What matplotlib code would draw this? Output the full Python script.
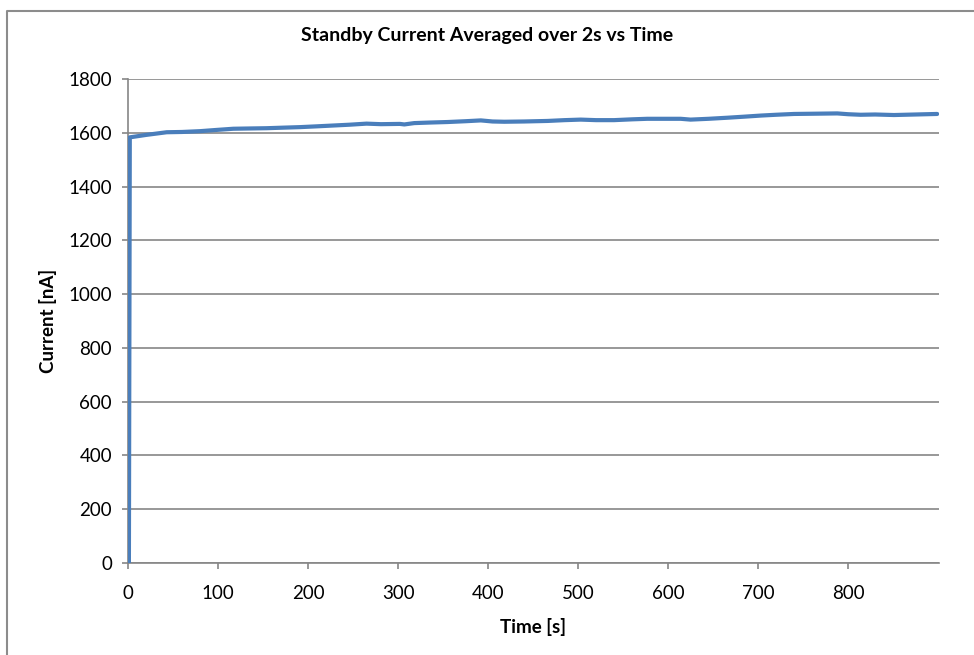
import matplotlib
matplotlib.use("Agg")
import matplotlib.pyplot as plt
from matplotlib.lines import Line2D

plt.rcParams['font.family'] = ['Lato', 'DejaVu Sans']

# Standby current readings (time in s, current in nA)
time_s = [1, 2, 20, 43, 60, 80, 100, 117, 135, 154, 172, 191, 210, 228, 246,
          265, 281, 302, 307, 318, 335, 355, 375, 392, 405, 418, 440, 466, 485,
          503, 520, 540, 560, 577, 592, 614, 625, 645, 666, 685, 703, 720, 740,
          765, 788, 800, 814, 830, 851, 875, 899]
current_nA = [0, 1583, 1592, 1602, 1603, 1606, 1611, 1615, 1616, 1617, 1619,
              1621, 1624, 1627, 1630, 1634, 1632, 1633, 1631, 1636, 1638, 1640,
              1643, 1646, 1642, 1641, 1642, 1644, 1647, 1649, 1647, 1647, 1650,
              1652, 1652, 1652, 1649, 1652, 1656, 1660, 1664, 1667, 1670, 1671,
              1672, 1669, 1667, 1668, 1666, 1668, 1670]

x_ticks = [0, 100, 200, 300, 400, 500, 600, 700, 800]
y_ticks = [0, 200, 400, 600, 800, 1000, 1200, 1400, 1600, 1800]

W, H = 974, 655
fig = plt.figure(figsize=(W / 100, H / 100), dpi=100)
ax = fig.add_axes([128 / W, (H - 563) / H, (939 - 128) / W, (563 - 79) / H])

grid_col = '#868686'
ax.plot(time_s, current_nA, color='#4a7ebb', lw=3.0, solid_joinstyle='round',
        solid_capstyle='round', zorder=3)

ax.set_xlim(0, 901)
ax.set_ylim(0, 1800)
ax.set_xticks(x_ticks)
ax.set_yticks(y_ticks)
ax.yaxis.grid(True, color=grid_col, lw=1.2)
ax.set_axisbelow(True)

for side in ['top', 'right']:
    ax.spines[side].set_visible(False)
for side in ['left', 'bottom']:
    ax.spines[side].set_color(grid_col)
    ax.spines[side].set_linewidth(1.2)

ax.tick_params(axis='both', colors=grid_col, labelcolor='black', labelsize=13.5,
               length=4.5, width=1.2, direction='out')
ax.tick_params(axis='x', pad=11)
ax.tick_params(axis='y', pad=7)

ax.set_xlabel('Time [s]', fontsize=13.5, fontweight='bold', labelpad=12)
ax.set_ylabel('Current [nA]', fontsize=13.5, fontweight='bold', labelpad=8)
fig.text(0.5, 1 - 36 / H, 'Standby Current Averaged over 2s vs Time',
         ha='center', va='center', fontsize=14, fontweight='bold')

# chart area border
bx, by = 7 / W, 1 - 10.5 / H
fig.add_artist(Line2D([bx, bx, 1.0], [0.0, by, by], transform=fig.transFigure,
                      color='#8c8c8c', lw=1.5))

fig.savefig('out.png', dpi=100)
